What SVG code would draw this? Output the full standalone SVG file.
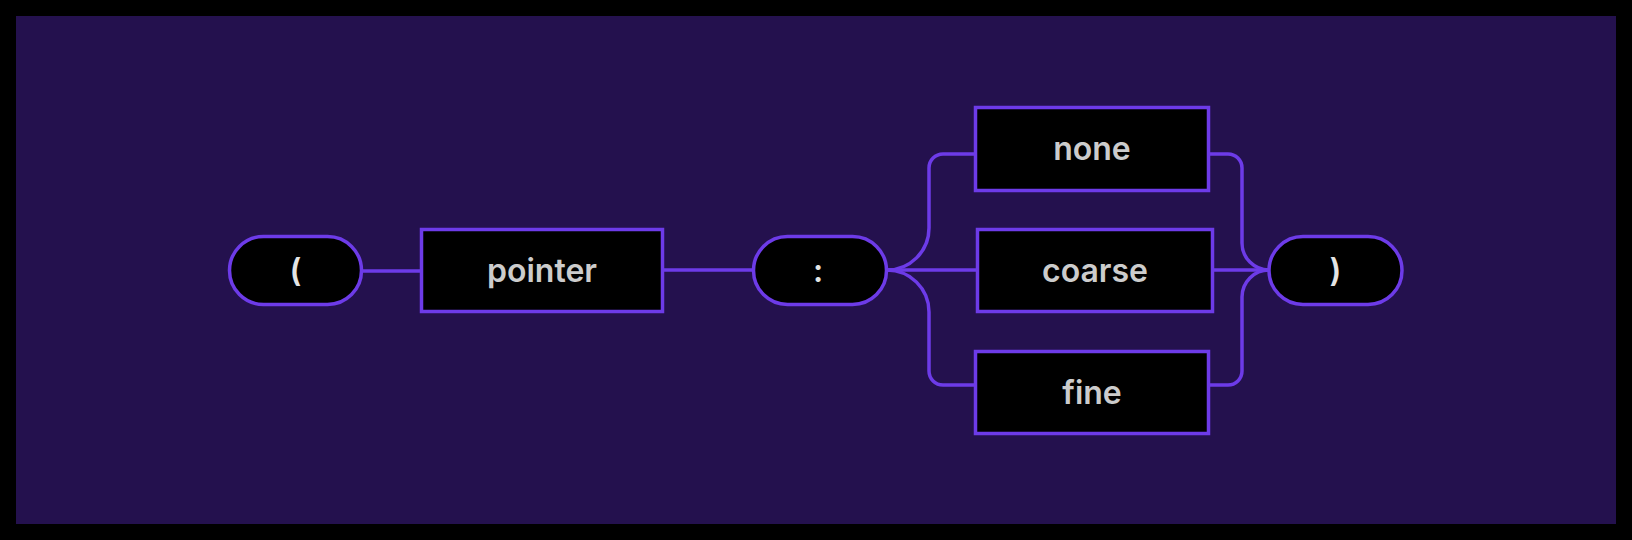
<svg xmlns="http://www.w3.org/2000/svg" width="1632" height="540" viewBox="0 0 1632 540">
<style>
.n{fill:#000;stroke:#6d3be8;stroke-width:3.5}
.c{fill:none;stroke:#6d3be8;stroke-width:3.5}
.t{font-family:Inter,"Liberation Sans",sans-serif;font-weight:600;font-size:32px;fill:#cccccc;text-anchor:middle}
.p{fill:#e4e4e4}
</style>
<rect x="0" y="0" width="1632" height="540" fill="#000"/>
<rect x="16" y="16" width="1600" height="508" fill="#24114e"/>
<g id="connectors">
<path class="c" d="M361.5 271H421.5"/>
<path class="c" d="M662.5 270H753.5"/>
<path class="c" d="M886.5 270H977.5"/>
<path class="c" d="M886.5 270A42 42 0 0 0 929 228V168A14 14 0 0 1 943 154H975.5"/>
<path class="c" d="M886.5 270A42 42 0 0 1 929 312V371A14 14 0 0 0 943 385H975.5"/>
<path class="c" d="M1208.5 154H1228A14 14 0 0 1 1242 168V243A27 27 0 0 0 1269 270"/>
<path class="c" d="M1208.5 385H1228A14 14 0 0 0 1242 371V297A27 27 0 0 1 1269 270"/>
<path class="c" d="M1212.5 270H1269"/>
</g>
<g id="open">
<rect class="n" x="229.5" y="236.5" width="132" height="68" rx="34"/>
<text class="t p" x="295.5" y="281.5">(</text>
</g>
<g id="pointer">
<rect class="n" x="421.5" y="229.5" width="241" height="82"/>
<text class="t" x="542" y="281.5">pointer</text>
</g>
<g id="colon">
<rect class="n" x="753.5" y="236.5" width="133" height="68" rx="34"/>
<text class="t p" x="818" y="281.5">:</text>
</g>
<g id="none">
<rect class="n" x="975.5" y="107.5" width="233" height="83"/>
<text class="t" x="1092" y="159.5">none</text>
</g>
<g id="coarse">
<rect class="n" x="977.5" y="229.5" width="235" height="82"/>
<text class="t" x="1095" y="281.5">coarse</text>
</g>
<g id="fine">
<rect class="n" x="975.5" y="351.5" width="233" height="82"/>
<text class="t" x="1092" y="403.5">fine</text>
</g>
<g id="close">
<rect class="n" x="1269" y="236.5" width="133" height="68" rx="34"/>
<text class="t p" x="1335.5" y="281.5">)</text>
</g>
</svg>
